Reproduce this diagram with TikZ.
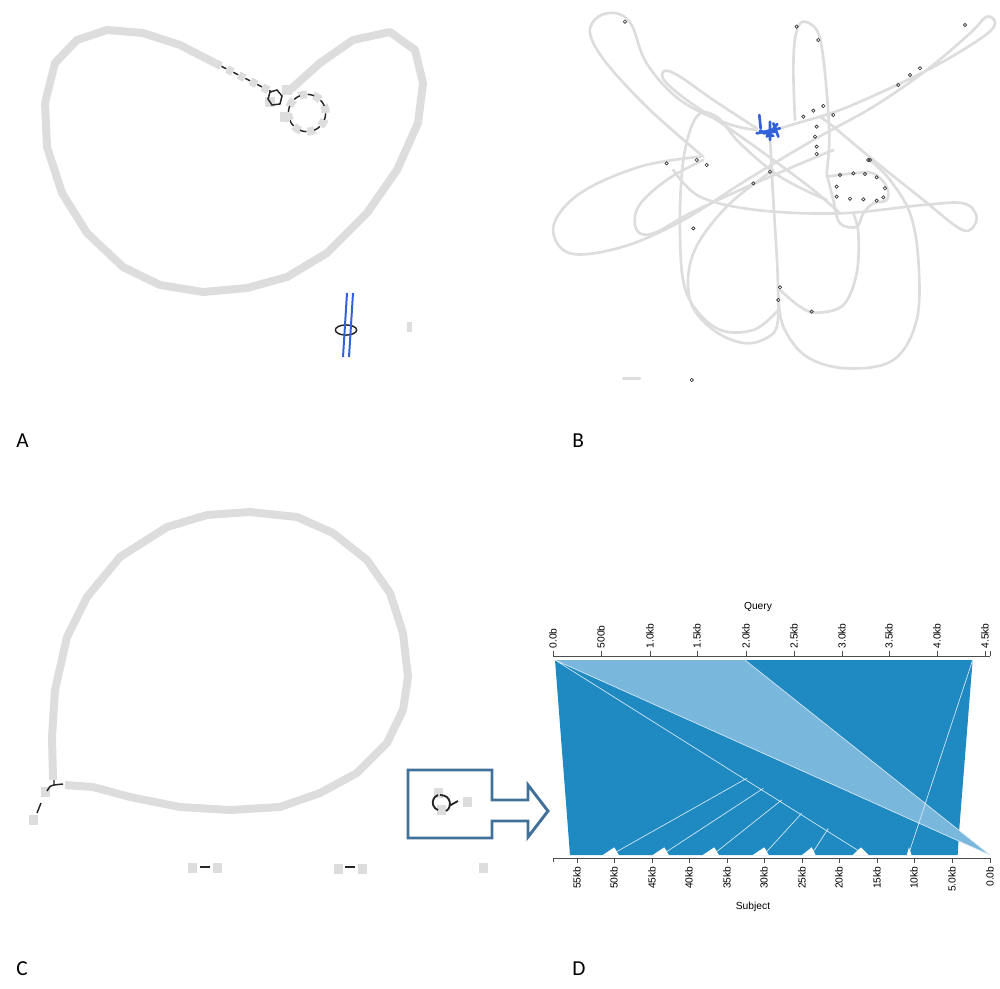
\documentclass[tikz,border=0pt]{standalone}
\usepackage{fontspec}
\setmainfont{Carlito}
\newfontfamily\plotfont{Liberation Sans}
\usetikzlibrary{arrows.meta}
\definecolor{GraphGrey}{RGB}{221,221,221}
\definecolor{NodeBlue}{RGB}{50,98,218}
\definecolor{HitBlue}{RGB}{31,138,194}
\definecolor{HitLight}{RGB}{122,183,220}
\definecolor{BoxBlue}{RGB}{65,112,153}
\tikzset{
  thickedge/.style={GraphGrey,line width=6pt,line join=round},
  thinedge/.style={GraphGrey,line width=2pt,line cap=round,line join=round},
  blackbit/.style={black!85,line width=1.1pt},
  panel/.style={font=\fontsize{16}{19}\selectfont,anchor=base west,inner sep=0pt},
  ticklab/.style={font=\plotfont\fontsize{7.7}{9}\selectfont,rotate=90,inner sep=1pt},
  axlab/.style={font=\plotfont\fontsize{7.7}{9}\selectfont,inner sep=0pt}
}
\begin{document}
\begin{tikzpicture}[x=0.75pt,y=-0.75pt,>=Latex]
\useasboundingbox (0,0) rectangle (1000,989);
% A
\draw[thickedge] (215,63)--(180,45)--(143,33)--(107,30)--(77,40)--(55,63)--(45,103)--(47,147)--(62,193)--(87,233)--(123,267)--(160,285)--(203,292)--(247,288)--(287,277)--(327,253)--(367,213)--(397,170)--(418,123)--(423,83)--(415,50)--(390,32)--(353,40)--(320,63)--(290,90);
\draw[thickedge,dash pattern=on 5pt off 5pt] (215,63)--(272,92);
\draw[blackbit,dash pattern=on 4pt off 6pt,dash phase=4.5pt] (215,63)--(272,92);
\draw[thickedge,dash pattern=on 6pt off 5pt] (307,113) circle[radius=14pt];
\draw[blackbit,dash pattern=on 5pt off 6pt,dash phase=5.5pt] (307,113) circle[radius=14pt];
\foreach \p in {(270,102),(287,90),(285,117)} \fill[GraphGrey] \p ++(-5,-5) rectangle ++(10,10);
\draw[blackbit] (270,92)--(277,90)--(282,96)--(280,104)--(272,105)--(268,99)--cycle;
\draw[blackbit] (346,330) ellipse[x radius=8pt,y radius=3.8pt];
\draw[NodeBlue,line width=1.5pt] (347,293)--(343,357) (353,293)--(349,357);
\fill[GraphGrey] (407,322) rectangle (412,332);
% B
\begin{scope}[shift={(540,0)},scale=1/3]
\foreach \c in {
  {(490,470) (330,330) (200,190) (150,100) (175,50) (230,40) (275,75) (320,190) (420,300) (560,370) (650,390)},
  {(650,385) (520,300) (420,230) (375,212) (372,240) (440,300) (560,380) (700,480) (820,570) (900,640)},
  {(480,470) (300,500) (120,580) (40,680) (90,760) (250,740) (430,660) (620,540) (820,420) (1000,320) (1160,210) (1290,100) (1340,50) (1365,70) (1330,110) (1200,190) (1060,260) (900,330) (770,370) (720,385)},
  {(765,360) (760,200) (768,100) (790,65) (830,90) (848,160) (862,300) (868,420) (860,520)},
  {(400,510) (480,590) (650,630) (900,640) (1150,615) (1270,610) (1310,650) (1290,690) (1250,680) (1150,600) (1000,480) (880,380) (840,350)},
  {(690,410) (700,600) (712,800) (715,930)},
  {(715,930) (640,990) (530,985) (440,880) (420,700) (430,480) (470,350) (530,350) (600,430) (720,530) (860,600)},
  {(715,880) (730,980) (800,1070) (920,1105) (1060,1080) (1130,960) (1135,780) (1110,640) (1050,540) (990,480)},
  {(720,870) (780,920) (830,938) (910,915) (950,820) (955,700) (940,640)},
  {(700,510) (560,620) (460,760) (450,900) (520,990) (620,1030) (700,1000) (715,940)},
  {(490,480) (380,540) (295,620) (290,690) (340,700) (450,640) (600,570) (760,500) (880,450)},
  {(860,520) (880,600) (900,670) (950,680) (970,640) (1000,610) (1040,600) (1040,560) (1000,520) (940,520) (860,530)}}
  \draw[thinedge] plot[smooth,tension=0.6] coordinates \c;
\draw[thinedge] (250,1135)--(300,1135);
\foreach \p in {(255,65),(770,80),(835,120),(1275,75),(1075,255),(1110,225),(1140,205),(790,350),(820,332),(850,318),(830,380),(825,410),(830,440),(830,462),(900,525),(940,520),(975,522),(1010,532),(1035,565),(1030,592),(890,560),(890,590),(930,596),(970,598),(1010,602),(990,480),(380,490),(470,480),(500,495),(640,550),(690,515),(720,862),(715,900),(815,935),(460,685),(985,480),(880,345),(455,1140)}
  \draw[black!80,line width=0.5pt] \p circle[radius=5];
\draw[NodeBlue,line width=2pt,line cap=round] (658,345)--(662,385) (650,400)--(720,385) (690,365)--(690,420) (700,370)--(715,410) (712,372)--(680,410) (660,392)--(700,408) (670,400)--(705,395);
\end{scope}
% C
\draw[thickedge] (53,780)--(52,737)--(55,690)--(67,637)--(87,597)--(120,557)--(167,527)--(207,515)--(250,512)--(297,517)--(333,533)--(367,560)--(390,593)--(403,633)--(408,677)--(403,710)--(387,743)--(357,773)--(320,793)--(280,807)--(230,810)--(180,807)--(130,797)--(93,787)--(65,785);
\foreach \p in {(45,792),(33,820),(192,868),(217,868),(338,869),(362,869),(483,868),(438,793),(441,810),(467,802)} \fill[GraphGrey] \p ++(-4.5,-5) rectangle ++(9,10);
\draw[blackbit] (47,791) .. controls (50,786) .. (54,785)--(63,784) (54,785)--(54,780) (41,803)--(37,813);
\draw[blackbit,line width=1.5pt] (200,867)--(210,867) (345,867)--(355,867);
\draw[BoxBlue,line width=2.2pt,line join=miter] (408,770)--(492,770)--(492,800)--(528,800)--(528,785)--(548,811)--(528,837)--(528,821)--(492,821)--(492,838)--(408,838)--cycle;
\draw[blackbit,line width=1.4pt] (438,795) arc[start angle=110,end angle=250,radius=6pt];
\draw[blackbit,line width=1.4pt] (440,795) .. controls (452,795) and (452,808) .. (446,811) (449,806)--(458,801);
% D
\begin{scope}[shift={(545,650)},scale=1/3]
\fill[HitBlue] (30,30)--(1283,30)--(1243,535)--(1238,615)--(75,615)--cycle;
\fill[HitLight] (30,30)--(600,30)--(1335,615)--cycle;
\draw[white!70!HitLight,line width=0.5pt] (30,30)--(1335,615) (600,30)--(1335,615) (30,30)--(945,605) (605,385)--(215,605) (655,415)--(365,605) (710,450)--(515,605) (770,490)--(665,605) (850,535)--(805,605) (1283,30)--(1090,615);
\foreach \a/\b/\c in {172/208/222,322/358/372,472/508/522,622/658/672,770/800/812,922/948/972,1085/1092/1100}
  \fill[white] (\a,616)--(\b,592)--(\c,616)--cycle;
\end{scope}
\draw[black!70,line width=0.5pt] (553,656)--(990,656) (990,656)--(990,651) (553,858)--(990,858) (553,858)--(553,862);
\foreach \x/\t [count=\i] in {553/0.0b,601/500b,650/1.0kb,697/1.5kb,746/2.0kb,794/2.5kb,842/3.0kb,889/3.5kb,937/4.0kb,985/4.5kb}{
  \draw[black!70,line width=0.5pt] (\x,656)--(\x,651);
  \node[ticklab,anchor=west] (q\i) at (\x,650) {\t};}
\foreach \x/\t [count=\i] in {577/55kb,614/50kb,652/45kb,689/40kb,727/35kb,764/30kb,802/25kb,839/20kb,877/15kb,914/10kb,952/5.0kb,990/0.0b}{
  \draw[black!70,line width=0.5pt] (\x,858)--(\x,863);
  \node[ticklab,anchor=east] (s\i) at (\x,865) {\t};}
\node[axlab] (query) at (758,607) {Query};
\node[axlab] (subject) at (753,907) {Subject};
% labels
\node[panel] (la) at (16,447) {A};
\node[panel] (lb) at (572,447) {B};
\node[panel] (lc) at (16,975) {C};
\node[panel] (ld) at (572,975) {D};
\end{tikzpicture}
\end{document}
